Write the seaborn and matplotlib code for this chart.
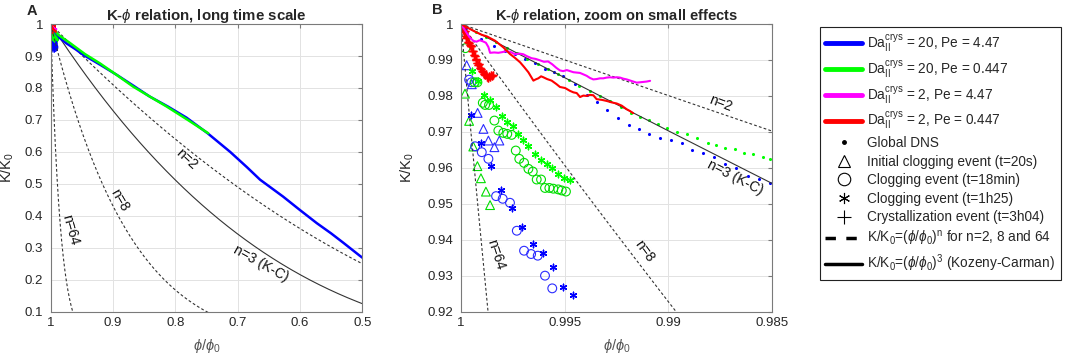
import matplotlib
matplotlib.use("Agg")
import matplotlib.pyplot as plt
import numpy as np
import pandas as pd
import seaborn as sns
from matplotlib.lines import Line2D
from matplotlib.ticker import FuncFormatter

# ---- data ----
# global DNS, Da=20 Pe=4.47 (blue) : dots in B, thick line in A
phi_dns_blue = [1.0, 0.99975, 0.99905, 0.99840, 0.99788, 0.99740, 0.99690, 0.99645, 0.99595, 0.99550,
                0.99507, 0.99450, 0.99394, 0.99346, 0.99297, 0.99241, 0.99188, 0.99140, 0.99092, 0.99040,
                0.98987, 0.98935, 0.98884, 0.98834, 0.98780, 0.98727, 0.98672, 0.98617, 0.98563, 0.98510]
K_dns_blue = [1.0, 0.9990, 0.9958, 0.9940, 0.9925, 0.9916, 0.9903, 0.9893, 0.9875, 0.9868,
              0.9855, 0.9832, 0.9803, 0.9782, 0.9760, 0.9740, 0.9719, 0.9709, 0.9695, 0.9682,
              0.9678, 0.9669, 0.9649, 0.9640, 0.9631, 0.9612, 0.9600, 0.9578, 0.9570, 0.9559]
phi_long_blue = [0.975, 0.960, 0.948, 0.920, 0.894, 0.868, 0.841, 0.812, 0.782, 0.748, 0.712,
                 0.685, 0.664, 0.627, 0.600, 0.573, 0.550, 0.530, 0.504, 0.495]
K_long_blue = [0.940, 0.921, 0.904, 0.872, 0.841, 0.808, 0.773, 0.742, 0.707, 0.658, 0.600,
               0.552, 0.513, 0.460, 0.418, 0.377, 0.345, 0.315, 0.275, 0.262]

# global DNS, Da=20 Pe=0.447 (green)
phi_dns_green = [1.0, 0.99985, 0.99930, 0.99880, 0.99830, 0.99780, 0.99730, 0.99680, 0.99630, 0.99580,
                 0.99530, 0.99480, 0.99430, 0.99380, 0.99330, 0.99280, 0.99230, 0.99182, 0.99137, 0.99092,
                 0.99048, 0.99005, 0.98957, 0.98911, 0.98863, 0.98807, 0.98770, 0.98727, 0.98678, 0.98635,
                 0.98590, 0.98542, 0.98510]
K_dns_green = [1.0, 0.99955, 0.99790, 0.99640, 0.99490, 0.99340, 0.99190, 0.99040, 0.98890, 0.98745,
               0.98600, 0.98445, 0.98290, 0.98150, 0.97990, 0.97850, 0.97700, 0.97537, 0.97420, 0.97324,
               0.97220, 0.97120, 0.97000, 0.96935, 0.96824, 0.96703, 0.96630, 0.96565, 0.96519, 0.96426,
               0.96380, 0.96306, 0.96241]
phi_long_green = [0.970, 0.945, 0.921, 0.895, 0.8675, 0.840, 0.814, 0.780, 0.747]
K_long_green = [0.942, 0.906, 0.877, 0.842, 0.804, 0.772, 0.742, 0.700, 0.658]

# Da=2 Pe=4.47 (magenta)
phi_mag = [1.0, 0.99980, 0.99960, 0.99940, 0.99925, 0.99910, 0.99895, 0.99880, 0.99868, 0.99860,
           0.99840, 0.99820, 0.99800, 0.99780, 0.99760, 0.99740, 0.99720, 0.99700, 0.99680, 0.99660,
           0.99640, 0.99619, 0.99600, 0.99580, 0.99560, 0.99540, 0.99523, 0.99507, 0.99490, 0.99474,
           0.99458, 0.99442, 0.99426, 0.99410, 0.99394, 0.99378, 0.99362, 0.99346, 0.99330, 0.99314,
           0.99298, 0.99282, 0.99265, 0.99249, 0.99233, 0.99217, 0.99201, 0.99185, 0.99169, 0.99153,
           0.99137, 0.99121, 0.99105, 0.99088]
K_mag = [1.0, 0.9982, 0.9964, 0.9953, 0.9951, 0.9955, 0.9952, 0.9948, 0.9936, 0.9920,
         0.9921, 0.9920, 0.9922, 0.9925, 0.9922, 0.9916, 0.9918, 0.9916, 0.9910, 0.9905,
         0.9903, 0.9899, 0.9895, 0.9896, 0.9888, 0.9878, 0.9871, 0.9869, 0.9872, 0.9869,
         0.9866, 0.9865, 0.9864, 0.9860, 0.9856, 0.9850, 0.9846, 0.9847, 0.9849, 0.9849,
         0.9851, 0.9852, 0.9851, 0.9852, 0.9851, 0.9848, 0.9846, 0.9843, 0.9840, 0.9837,
         0.9838, 0.9839, 0.9840, 0.9842]

# Da=2 Pe=0.447 (red)
phi_red = [1.0, 0.99966, 0.99932, 0.99900, 0.99876, 0.99836, 0.99796, 0.99764, 0.99740, 0.99715,
           0.99695, 0.99675, 0.99651, 0.99640, 0.99627, 0.99614, 0.99603, 0.99585, 0.99563, 0.99540,
           0.99523, 0.99498, 0.99474, 0.99458, 0.99442, 0.99426, 0.99410, 0.99394, 0.99378, 0.99362,
           0.99346, 0.99320, 0.99297, 0.99273, 0.99249, 0.99225, 0.99201, 0.99185, 0.99170]
K_red = [1.0, 0.9989, 0.99787, 0.9970, 0.99658, 0.99537, 0.99352, 0.99167, 0.9906, 0.98935,
         0.9880, 0.98657, 0.98426, 0.9846, 0.98491, 0.98546, 0.9852, 0.9847, 0.98426, 0.9833,
         0.9825, 0.9822, 0.9814, 0.9810, 0.9808, 0.9797, 0.9801, 0.9800, 0.9803, 0.9802,
         0.9791, 0.9789, 0.9786, 0.9782, 0.9779, 0.9773, 0.9763, 0.9758, 0.9752]

# clogging / crystallization events
phi_tri_blue = [0.99973, 0.99948, 0.99920, 0.99892, 0.99868, 0.99815, 0.99839]
K_tri_blue = [0.98853, 0.98325, 0.97528, 0.97083, 0.96759, 0.96759, 0.96574]
phi_tri_green = [0.99981, 0.99961, 0.99941, 0.99921, 0.99904, 0.99880, 0.99860]
K_tri_green = [0.98064, 0.97306, 0.96593, 0.96047, 0.95710, 0.95338, 0.94963]

phi_circ_blue = [0.99961, 0.99950, 0.99932, 0.99900, 0.99868, 0.99831, 0.99799, 0.99764, 0.99731,
                 0.99696, 0.99662, 0.99630, 0.99595, 0.99560]
K_circ_blue = [0.98453, 0.98380, 0.96600, 0.96435, 0.96250, 0.95213, 0.95139, 0.95028, 0.94250,
               0.93694, 0.93602, 0.93556, 0.93000, 0.92647]
phi_circ_green = [0.99979, 0.99935, 0.99921, 0.99895, 0.99884, 0.99865, 0.99839, 0.99820, 0.99796,
                  0.99777, 0.99756, 0.99736, 0.99719, 0.99696, 0.99675, 0.99654, 0.99635, 0.99614,
                  0.99595, 0.99574, 0.99555, 0.99531, 0.99514, 0.99494]
K_circ_green = [0.9933, 0.9838, 0.9838, 0.9781, 0.9775, 0.9775, 0.97315, 0.97037, 0.96972,
                0.96944, 0.96917, 0.96481, 0.9625, 0.96139, 0.95972, 0.95898, 0.95675, 0.95675,
                0.9544, 0.9544, 0.9542, 0.9540, 0.9537, 0.9534]

phi_ast_blue = [0.99953, 0.99904, 0.99855, 0.99806, 0.99755, 0.99704, 0.99654, 0.99606, 0.99558,
                0.99510, 0.99458]
K_ast_blue = [0.97472, 0.96686, 0.96064, 0.95394, 0.94880, 0.94343, 0.93880, 0.93620, 0.93231,
              0.92694, 0.92454]
phi_ast_green = [0.99947, 0.99917, 0.99890, 0.99860, 0.99831, 0.99804, 0.99780, 0.99751, 0.99723,
                 0.99699, 0.99675, 0.99643, 0.99614, 0.99587, 0.99560, 0.99531, 0.99502, 0.99474]
K_ast_green = [0.9869, 0.98417, 0.9803, 0.9788, 0.97694, 0.97454, 0.97269, 0.97176, 0.96944,
               0.96778, 0.96602, 0.96389, 0.96204, 0.96111, 0.95991, 0.95833, 0.95722, 0.95648]

phi_plus_red = [0.99995, 0.99990, 0.99986, 0.99982, 0.99978, 0.99974, 0.99970, 0.99966, 0.99962,
                0.99958, 0.99954, 0.99950, 0.99946, 0.99942, 0.99938, 0.99934, 0.99930, 0.99926,
                0.99922, 0.99918, 0.99914, 0.99910, 0.99905, 0.99900, 0.99895, 0.99890, 0.99885,
                0.99880, 0.99875, 0.99870, 0.99865, 0.99860, 0.99855, 0.99850, 0.99846]
K_plus_red = [0.9995, 0.9984, 0.9978, 0.9980, 0.9968, 0.9962, 0.9964, 0.9950, 0.9948,
              0.9942, 0.9938, 0.9940, 0.9926, 0.9924, 0.9915, 0.9912, 0.9904, 0.9900,
              0.9893, 0.9886, 0.9890, 0.9878, 0.9874, 0.9870, 0.9866, 0.9860, 0.9857,
              0.9862, 0.9853, 0.9851, 0.9855, 0.9852, 0.9857, 0.9855, 0.9859]

n_dashed = [2, 8, 64]
n_kc = 3

BLUE, GREEN, MAG, RED = "#0000ff", "#00ff00", "#ff00ff", "#ff0000"
BLUE_M, GREEN_M = "#2b2bff", "#00dd00"

sns.set_style("whitegrid")
plt.rcParams["font.family"] = ["Liberation Sans", "DejaVu Sans"]
plt.rcParams["mathtext.fontset"] = "custom"
plt.rcParams["mathtext.rm"] = "Liberation Sans"
plt.rcParams["mathtext.it"] = "Liberation Sans:italic"
plt.rcParams["mathtext.bf"] = "Liberation Sans:bold"

fig = plt.figure(figsize=(10.65, 3.59), dpi=100)
axA = fig.add_axes([0.0476, 0.132, 0.2925, 0.801])
axB = fig.add_axes([0.4329, 0.132, 0.2920, 0.801])


def model_curves(ax, phi_min):
    x = np.linspace(1.0, phi_min, 600)
    for n in n_dashed:
        sns.lineplot(x=x, y=x ** n, ax=ax, color="#333333", lw=0.8,
                     linestyle=(0, (2.5, 2)), sort=False, estimator=None)
    sns.lineplot(x=x, y=x ** n_kc, ax=ax, color="#333333", lw=0.8, sort=False, estimator=None)


def events(ax):
    ms_o = 40
    sns.scatterplot(x=phi_tri_blue, y=K_tri_blue, ax=ax, marker="^", s=ms_o,
                    facecolor="none", edgecolor=BLUE_M, linewidth=0.8)
    sns.scatterplot(x=phi_tri_green, y=K_tri_green, ax=ax, marker="^", s=ms_o,
                    facecolor="none", edgecolor=GREEN_M, linewidth=0.8)
    sns.scatterplot(x=phi_circ_blue, y=K_circ_blue, ax=ax, marker="o", s=ms_o,
                    facecolor="none", edgecolor=BLUE_M, linewidth=0.8)
    sns.scatterplot(x=phi_circ_green, y=K_circ_green, ax=ax, marker="o", s=ms_o,
                    facecolor="none", edgecolor=GREEN_M, linewidth=0.8)
    sns.scatterplot(x=phi_ast_blue, y=K_ast_blue, ax=ax, marker=(6, 2, 0), s=22,
                    color=BLUE, linewidth=1.0)
    sns.scatterplot(x=phi_ast_green, y=K_ast_green, ax=ax, marker=(6, 2, 0), s=22,
                    color=GREEN, linewidth=1.0)
    sns.scatterplot(x=phi_plus_red, y=K_plus_red, ax=ax, marker="+", s=30,
                    color=RED, linewidth=1.0)


# ---- panel A ----
model_curves(axA, 0.5)
sns.lineplot(x=phi_dns_blue + phi_long_blue, y=K_dns_blue + K_long_blue, ax=axA,
             color=BLUE, lw=1.8, sort=False, estimator=None)
sns.lineplot(x=phi_dns_green + phi_long_green, y=K_dns_green + K_long_green, ax=axA,
             color=GREEN, lw=1.8, sort=False, estimator=None)
sns.lineplot(x=phi_mag, y=K_mag, ax=axA, color=MAG, lw=1.5, sort=False, estimator=None)
sns.lineplot(x=phi_red, y=K_red, ax=axA, color=RED, lw=1.5, sort=False, estimator=None)
events(axA)

# ---- panel B ----
model_curves(axB, 0.985)
sns.scatterplot(x=phi_dns_blue, y=K_dns_blue, ax=axB, marker="o", s=5, color=BLUE, linewidth=0)
sns.scatterplot(x=phi_dns_green, y=K_dns_green, ax=axB, marker="o", s=5, color=GREEN, linewidth=0)
events(axB)
sns.lineplot(x=phi_mag, y=K_mag, ax=axB, color=MAG, lw=1.5, sort=False, estimator=None)
sns.lineplot(x=phi_red, y=K_red, ax=axB, color=RED, lw=1.5, sort=False, estimator=None)
sns.scatterplot(x=phi_plus_red, y=K_plus_red, ax=axB, marker="+", s=30, color=RED, linewidth=1.0)

fmt = FuncFormatter(lambda v, p: f"{v:g}")


def style(ax, xlim, ylim, xt, yt, ylab_x):
    ax.set_xlim(xlim)
    ax.set_ylim(ylim)
    ax.set_xticks(xt)
    ax.set_yticks(yt)
    ax.xaxis.set_major_formatter(fmt)
    ax.yaxis.set_major_formatter(fmt)
    ax.grid(True, color="#e2e2e2", lw=0.7)
    ax.set_axisbelow(True)
    for s in ax.spines.values():
        s.set_visible(True)
        s.set_color("#7a7a7a")
        s.set_linewidth(0.8)
    ax.tick_params(direction="in", length=3, width=0.8, color="#7a7a7a", top=True, right=True,
                   labelsize=9.5, labelcolor="#262626", pad=4)
    ax.tick_params(axis="y", pad=5.5)
    ax.set_xlabel(r"$\phi/\phi_0$", fontsize=10.5, color="#555555")
    ax.xaxis.set_label_coords(0.5, -0.118)
    ax.xaxis.label.set_va("center")
    ax.set_ylabel(r"K/K$_0$", fontsize=10.5, color="#262626")
    ax.yaxis.set_label_coords(ylab_x, 0.5)
    ax.yaxis.label.set_va("center")


style(axA, (1.0, 0.5), (0.1, 1.0), [1, 0.9, 0.8, 0.7, 0.6, 0.5],
      [0.1, 0.2, 0.3, 0.4, 0.5, 0.6, 0.7, 0.8, 0.9, 1.0], -0.14)
style(axB, (1.0, 0.985), (0.92, 1.0), [1, 0.995, 0.99, 0.985],
      [0.92, 0.93, 0.94, 0.95, 0.96, 0.97, 0.98, 0.99, 1.0], -0.174)

axA.set_title(r"K-$\phi$ relation, long time scale", fontsize=10.8, fontweight="bold", pad=3)
axB.set_title(r"K-$\phi$ relation, zoom on small effects", fontsize=10.5, fontweight="bold", pad=3)
fig.text(0.0254, 0.989, "A", fontsize=10.5, fontweight="bold", va="top")
fig.text(0.4056, 0.992, "B", fontsize=10.5, fontweight="bold", va="top")

lab = dict(fontsize=10, ha="center", va="center", rotation_mode="anchor", color="#111111")
axA.text(0.782, 0.578, "n=2", rotation=-43, **lab)
axA.text(0.889, 0.45, "n=8", rotation=-60, **lab)
axA.text(0.9684, 0.356, "n=64", rotation=-74, **lab)
axA.text(0.663, 0.250, "n=3 (K-C)", rotation=-29, **lab)
axB.text(0.98750, 0.9780, "n=2", rotation=-21, **lab)
axB.text(0.98678, 0.9573, "n=3 (K-C)", rotation=-27, **lab)
axB.text(0.99117, 0.93694, "n=8", rotation=-54, **lab)
axB.text(0.99831, 0.93583, "n=64", rotation=-72, **lab)

handles = [
    Line2D([], [], color=BLUE, lw=3.5),
    Line2D([], [], color=GREEN, lw=3.5),
    Line2D([], [], color=MAG, lw=3.5),
    Line2D([], [], color=RED, lw=3.5),
    Line2D([], [], ls="none", marker="o", ms=2.5, color="k"),
    Line2D([], [], ls="none", marker="^", ms=9, mfc="none", mec="k", mew=0.8),
    Line2D([], [], ls="none", marker="o", ms=9, mfc="none", mec="k", mew=0.8),
    Line2D([], [], ls="none", marker=(6, 2, 0), ms=8, color="k", mew=0.8),
    Line2D([], [], ls="none", marker="+", ms=10, color="k", mew=0.8),
    Line2D([], [], color="k", lw=2.5, ls=(0, (3, 3))),
    Line2D([], [], color="k", lw=2.5),
]
labels = [
    r"Da$_{\mathrm{II}}^{\mathrm{crys}}$ = 20, Pe = 4.47",
    r"Da$_{\mathrm{II}}^{\mathrm{crys}}$ = 20, Pe = 0.447",
    r"Da$_{\mathrm{II}}^{\mathrm{crys}}$ = 2, Pe = 4.47",
    r"Da$_{\mathrm{II}}^{\mathrm{crys}}$ = 2, Pe = 0.447",
    "Global DNS",
    "Initial clogging event (t=20s)",
    "Clogging event (t=18min)",
    "Clogging event (t=1h25)",
    "Crystallization event (t=3h04)",
    r"K/K$_0$=($\phi/\phi_0$)$^{\mathrm{n}}$ for n=2, 8 and 64",
    r"K/K$_0$=($\phi/\phi_0$)$^3$ (Kozeny-Carman)",
]
leg = fig.legend(handles, labels, loc="upper left", bbox_to_anchor=(0.7695, 0.924),
                 frameon=True, fancybox=False, edgecolor="#222222", framealpha=1,
                 fontsize=9.8, handlelength=2.7, handletextpad=0.4, labelspacing=0.34,
                 borderpad=0.42, borderaxespad=0)
leg.get_frame().set_linewidth(0.8)

fig.savefig("out.png", dpi=100)
